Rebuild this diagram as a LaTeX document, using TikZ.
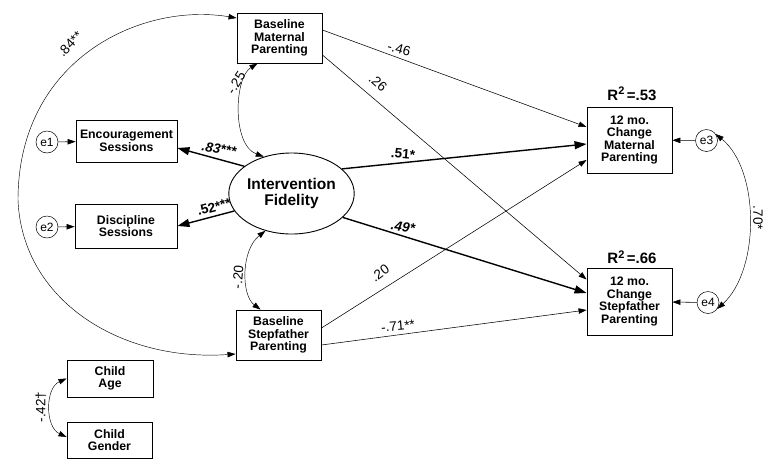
\documentclass[tikz,border=0pt]{standalone}
\usepackage{fontspec}
\setmainfont{Liberation Sans}
\usetikzlibrary{arrows.meta,shapes.geometric,calc}
\begin{document}
\begin{tikzpicture}[x=1pt,y=-1pt,
  boxnode/.style={draw, line width=0.9pt, align=center, inner sep=0pt,
    font=\bfseries\fontsize{12.3}{12.5}\selectfont},
  errnode/.style={draw, circle, line width=0.5pt, minimum size=22pt, inner sep=0pt,
    font=\fontsize{12}{12}\selectfont},
  thin/.style={line width=0.55pt, -{Triangle[length=8pt,width=5.5pt]}},
  thick/.style={line width=1.4pt, -{Triangle[length=12pt,width=8pt]}},
  dbl/.style={line width=0.45pt, {Triangle[length=8pt,width=5.5pt]}-{Triangle[length=8pt,width=5.5pt]}},
  lab/.style={font=\fontsize{13.5}{13.5}\selectfont, inner sep=0pt},
  blab/.style={font=\bfseries\fontsize{13.5}{13.5}\selectfont, inner sep=0pt},
  bilab/.style={font=\bfseries\itshape\fontsize{13.5}{13.5}\selectfont, inner sep=0pt},
  rlab/.style={font=\bfseries\fontsize{15}{15}\selectfont, inner sep=0pt}
]
\useasboundingbox[fill=white] (0,0) rectangle (773,467);

% boxes
\node[boxnode, minimum width=85pt, minimum height=50pt] (bm) at (279.5,38) {Baseline\\Maternal\\Parenting};
\node[boxnode, minimum width=101pt, minimum height=42pt] (enc) at (126.5,141) {Encouragement\\Sessions};
\node[boxnode, minimum width=102pt, minimum height=44pt] (dis) at (126,226) {Discipline\\Sessions};
\node[boxnode, minimum width=85pt, minimum height=50pt] (bs) at (278.5,335) {Baseline\\Stepfather\\Parenting};
\node[boxnode, minimum width=86pt, minimum height=37pt] (age) at (110,378.5) {Child\\Age};
\node[boxnode, minimum width=85pt, minimum height=36pt] (gen) at (109.5,440) {Child\\Gender};
\node[boxnode, minimum width=85pt, minimum height=66pt] (cm) at (629.5,140) {12 mo.\\Change\\Maternal\\Parenting};
\node[boxnode, minimum width=85pt, minimum height=67pt] (cs) at (629.5,301.5) {12 mo.\\Change\\Stepfather\\Parenting};
\node[draw, ellipse, line width=0.9pt, minimum width=115pt, minimum height=81pt, inner sep=0pt,
  align=center, font=\bfseries\fontsize{15.5}{15.5}\selectfont] (fid) at (291.5,193.5) {Intervention\\Fidelity};

% error terms
\node[errnode] (e1) at (47,142) {e1};
\node[errnode] (e2) at (47,227) {e2};
\node[errnode] (e3) at (706.5,140.5) {e3};
\node[errnode] (e4) at (708,302.5) {e4};

% R^2 labels
\node[rlab] (r1) at (632,94) {R\raisebox{0.7ex}{\fontsize{11}{11}\selectfont 2}\,=.53};
\node[rlab] (r2) at (632,257) {R\raisebox{0.7ex}{\fontsize{11}{11}\selectfont 2}\,=.66};

% error arrows
\draw[thin] (e1) -- (enc);
\draw[thin] (e2) -- (dis);
\draw[thin] (e3) -- (cm);
\draw[thin] (e4) -- (cs);

% paths
\draw[thin] ([yshift=8pt]bm.east) -- ([yshift=13pt]cm.west);
\draw[thin] ([yshift=-17pt]bm.east) -- ([yshift=22pt]cs.west);
\draw[thick] (fid.26) -- ([yshift=-4pt]cm.west);
\draw[thick] (fid.-25) -- ([yshift=8.5pt]cs.west);
\draw[thin] ([yshift=7pt]bs.east) -- ([yshift=-20pt]cm.west);
\draw[thin] ([yshift=-10pt]bs.east) -- ([yshift=-8.5pt]cs.west);
\draw[thick] (fid.150) -- ([yshift=-7pt]enc.east);
\draw[thick] (fid.197) -- (dis.east);

% correlations
\draw[dbl] ([yshift=20pt]bm.west) .. controls (140,2) and (18,60) .. (18,200)
  .. controls (22,300) and (120,362) .. ([yshift=-19pt]bs.west);
\draw[dbl] ([xshift=-22pt]bm.south) .. controls (234,78) and (232,145) .. (fid.127);
\draw[dbl] (fid.235) .. controls (241,250) and (241,295) .. ([xshift=-18pt]bs.north);
\draw[dbl] (age.west) .. controls (45,388) and (45,427) .. ([yshift=3pt]gen.west);
\draw[dbl] (e3.35) .. controls (760,170) and (760,270) .. (e4.-35);

% coefficient labels
\node[lab, rotate=47] (l84) at (70,44) {.84**};
\node[lab, rotate=58] (l25) at (236,83) {-.25};
\node[lab, rotate=85] (l20) at (238,277) {-.20};
\node[lab, rotate=90] (l42) at (41,407) {-.42\textdagger};
\node[lab, rotate=-90] (l70) at (758,218) {.70*};
\node[lab, rotate=-15] (l46) at (399,49) {-.46};
\node[lab, rotate=-42] (l26) at (378,83) {.26};
\node[blab, rotate=-5] (l51) at (403,154) {.51*};
\node[bilab, rotate=-8] (l49) at (403,227) {.49*};
\node[lab, rotate=36] (l20b) at (380,273) {.20};
\node[lab, rotate=5] (l71) at (398,326) {-.71**};
\node[bilab, rotate=-10] (l83) at (219,149) {.83***};
\node[blab, rotate=15] (l52) at (214,207) {.52***};
\end{tikzpicture}
\end{document}
